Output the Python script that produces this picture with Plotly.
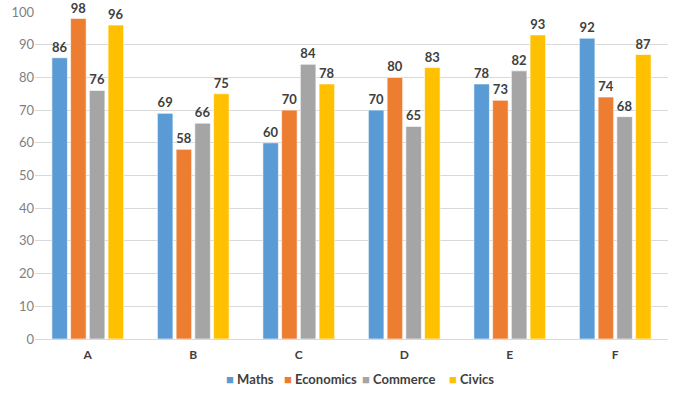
import plotly.graph_objects as go

categories = ["A", "B", "C", "D", "E", "F"]
maths = [86, 69, 60, 70, 78, 92]
economics = [98, 58, 70, 80, 73, 74]
commerce = [76, 66, 84, 65, 82, 68]
civics = [96, 75, 78, 83, 93, 87]

series = [
    ("Maths", maths, "#5B9BD5"),
    ("Economics", economics, "#ED7D31"),
    ("Commerce", commerce, "#A5A5A5"),
    ("Civics", civics, "#FFC000"),
]

FONT = "Lato, Noto Sans, sans-serif"

W, H = 683, 393
L, R, T, B = 35, 15, 12, 54
pw, ph = W - L - R, H - T - B

fig = go.Figure()
for name, vals, color in series:
    fig.add_trace(go.Bar(
        x=categories, y=vals, name=name,
        marker=dict(color=color, line=dict(color="rgba(255,255,255,0.6)", width=1)),
        text=vals, textposition="outside", cliponaxis=False,
        textfont=dict(family=FONT, size=13, color="#404040", weight="bold"),
        showlegend=False, hoverinfo="skip",
    ))

# custom compact legend
legend_x = [224, 282, 360, 447]
legend_py = 379
for (name, vals, color), px in zip(series, legend_x):
    fig.add_annotation(
        x=(px - L) / pw, y=(H - B - legend_py) / ph, xref="paper", yref="paper",
        xanchor="left", yanchor="middle", showarrow=False,
        text=f"<span style='color:{color}'>■</span> {name}",
        font=dict(family=FONT, size=13, color="#404040", weight="bold"),
    )

fig.update_layout(
    width=W, height=H,
    margin=dict(l=L, r=R, t=T, b=B, autoexpand=False),
    plot_bgcolor="white", paper_bgcolor="white",
    barmode="group", bargap=0.29, bargroupgap=0.17,
    font=dict(family=FONT, color="#595959", size=12),
    yaxis=dict(range=[0, 100], dtick=10, showgrid=True, gridcolor="#D9D9D9", gridwidth=1,
               zeroline=True, zerolinecolor="#D9D9D9", zerolinewidth=1, automargin=False,
               tickfont=dict(family=FONT, size=13, color="#7F7F7F"), ticks="", ticklen=0),
    xaxis=dict(showline=True, linecolor="#D9D9D9", automargin=False, ticklabelstandoff=5,
               tickfont=dict(family=FONT, size=12, color="#404040", weight="bold")),
    showlegend=False,
)

fig.write_html("out.html", config={"displayModeBar": False},
               post_script="document.body.style.margin='0';document.body.style.overflow='hidden';")
